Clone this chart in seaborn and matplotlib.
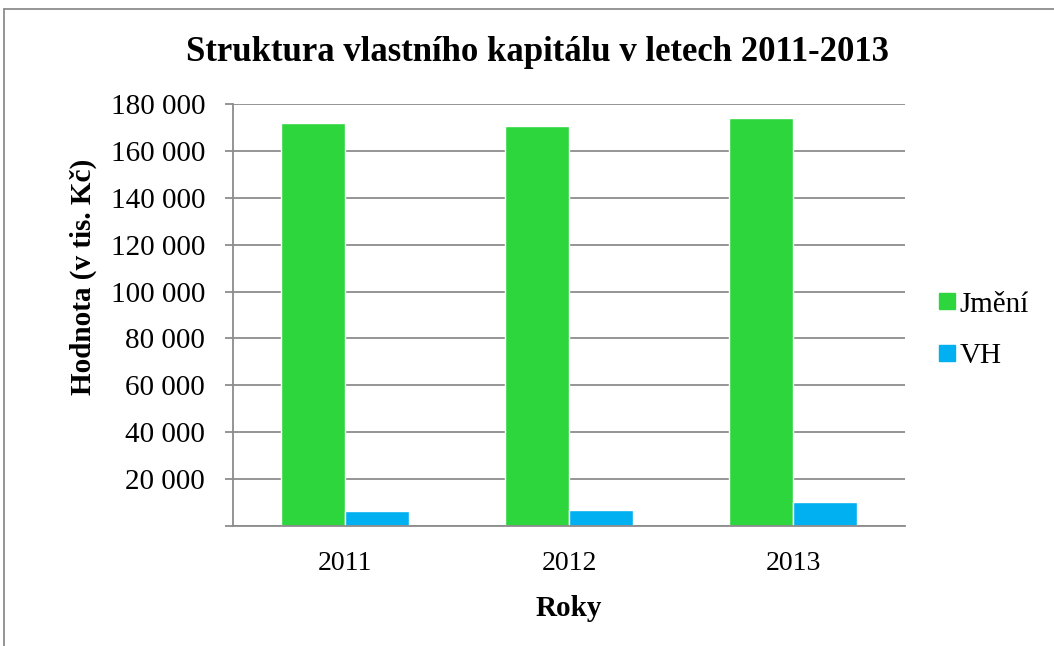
import matplotlib
matplotlib.use("Agg")
import matplotlib.pyplot as plt
import pandas as pd
import seaborn as sns
from matplotlib.lines import Line2D

YEARS = ["2011", "2012", "2013"]
JMENI = [171800, 170600, 174000]
VH = [6500, 6900, 10200]
SERIES = ["Jmění", "VH"]
COLORS = {"Jmění": "#2DD63D", "VH": "#00B0F0"}
Y_TICKS = list(range(0, 180001, 20000))

df = pd.DataFrame({
    "Rok": YEARS * 2,
    "Hodnota": JMENI + VH,
    "Serie": [SERIES[0]] * 3 + [SERIES[1]] * 3,
})

sns.set_style("white")
plt.rcParams["font.family"] = ["Liberation Serif", "DejaVu Serif"]
plt.rcParams["text.color"] = "black"
plt.rcParams["axes.labelcolor"] = "black"
plt.rcParams["xtick.color"] = "black"
plt.rcParams["ytick.color"] = "black"

GRID = "#8C8C8C"

fig = plt.figure(figsize=(10.54, 6.46), dpi=100)
ax = fig.add_axes([233 / 1054, 1 - 526 / 646, 672 / 1054, 422 / 646])

sns.barplot(data=df, x="Rok", y="Hodnota", hue="Serie", palette=COLORS,
            width=128 / 224, ax=ax, saturation=1, legend=False)

ax.set_xlim(-0.5, 2.5)
ax.set_ylim(0, 180000)
ax.set_yticks(Y_TICKS)
ax.set_yticklabels(["" if v == 0 else f"{v:,}".replace(",", " ") for v in Y_TICKS])
ax.yaxis.grid(True, color=GRID, linewidth=1.3)
ax.set_axisbelow(True)

for s in ["top", "right"]:
    ax.spines[s].set_visible(False)
for s in ["left", "bottom"]:
    ax.spines[s].set_color(GRID)
    ax.spines[s].set_linewidth(1.3)

ax.set_xticks([0, 1, 2])
ax.set_xticks([-0.5, 0.5, 1.5, 2.5], minor=True)
ax.tick_params(axis="x", which="major", length=0, labelsize=20, pad=18)
ax.tick_params(axis="x", which="minor", length=8, color=GRID, width=1.3, direction="out")
ax.tick_params(axis="y", length=6, color=GRID, width=1.3, direction="out",
               labelsize=21, left=True, pad=14)

ax.set_xlabel("Roky", fontsize=21, fontweight="bold")
ax.xaxis.set_label_coords(0.5, -(608 - 526) / 422, transform=ax.transAxes)
ax.set_ylabel("Hodnota (v tis. Kč)", fontsize=21, fontweight="bold")
ax.yaxis.set_label_coords((83 - 233) / 672, (526 - 277) / 422, transform=ax.transAxes)
ax.yaxis.label.set_va("center")
ax.xaxis.label.set_va("center")

fig.suptitle("Struktura vlastního kapitálu v letech 2011-2013", fontsize=25,
             fontweight="bold", x=537 / 1054, y=1 - 36 / 646, va="top")

handles = [Line2D([], [], marker="s", linestyle="", markersize=11.5,
                  markerfacecolor=COLORS[s], markeredgecolor=COLORS[s]) for s in SERIES]
ax.legend(handles, SERIES, frameon=False, fontsize=21, loc="center left",
          bbox_to_anchor=(938 / 1054, 1 - 330 / 646), bbox_transform=fig.transFigure,
          handlelength=0.6, handletextpad=0.15, labelspacing=0.85, borderaxespad=0,
          borderpad=0)

# outer chart frame (top and left edges visible)
fig.add_artist(Line2D([4 / 1054, 4 / 1054], [0, 1 - 9 / 646], transform=fig.transFigure,
                      color=GRID, linewidth=1.3))
fig.add_artist(Line2D([4 / 1054, 1], [1 - 9 / 646, 1 - 9 / 646], transform=fig.transFigure,
                      color=GRID, linewidth=1.3))

fig.savefig("out.png", dpi=100, facecolor="white")
